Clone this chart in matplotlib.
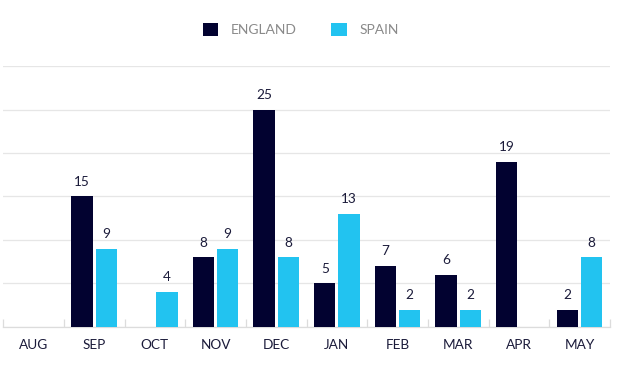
import numpy as np
import matplotlib.pyplot as plt
from matplotlib.ticker import FixedLocator

months = ["AUG", "SEP", "OCT", "NOV", "DEC", "JAN", "FEB", "MAR", "APR", "MAY"]
england = [0, 15, 0, 8, 25, 5, 7, 6, 19, 2]
spain = [0, 9, 4, 9, 8, 13, 2, 2, 0, 8]

navy = "#020230"
cyan = "#22c3f0"

plt.rcParams['font.family'] = ['Lato', 'DejaVu Sans']

fig = plt.figure(figsize=(6.4, 3.69), dpi=100)
ax = fig.add_axes([0.005, 0.114, 0.948, 0.707])

x = np.arange(len(months))
w = 0.35
b1 = ax.bar(x - 0.2, england, w, color=navy, label="ENGLAND", zorder=3)
b2 = ax.bar(x + 0.2, spain, w, color=cyan, label="SPAIN", zorder=3)

# value labels, skip the zeros
for bars, vals in ((b1, england), (b2, spain)):
    for r, v in zip(bars, vals):
        if v > 0:
            ax.text(r.get_x() + r.get_width() / 2, v + 1.0, str(v),
                    ha="center", va="bottom", fontsize=9.8, color="#1b1b3a")

ax.set_xlim(-0.5, len(months) - 0.5)
ax.set_ylim(0, 30)
ax.set_yticks([0, 5, 10, 15, 20, 25, 30])
ax.tick_params(axis="y", left=False, labelleft=False)
ax.grid(axis="y", color="#e6e6e6", linewidth=0.9, zorder=0)

ax.set_xticks(x)
ax.set_xticklabels(months, fontsize=9.8, color="#1b1b3a")
ax.tick_params(axis="x", length=0, pad=9)
ax.xaxis.set_minor_locator(FixedLocator(np.arange(-0.5, len(months), 1.0)))
ax.tick_params(axis="x", which="minor", direction="in", length=6, color="#dcdcdc", width=0.9)

for s in ("top", "right", "left"):
    ax.spines[s].set_visible(False)
ax.spines["bottom"].set_color("#dcdcdc")
ax.spines["bottom"].set_linewidth(0.9)

fig.legend(handles=[b1, b2], loc="center", bbox_to_anchor=(0.47, 0.92), ncol=2,
           frameon=False, fontsize=10, labelcolor="#8a8a8a",
           handlelength=1.1, handleheight=1.1, columnspacing=2.5, handletextpad=0.9)

fig.savefig("out.png", dpi=100)
